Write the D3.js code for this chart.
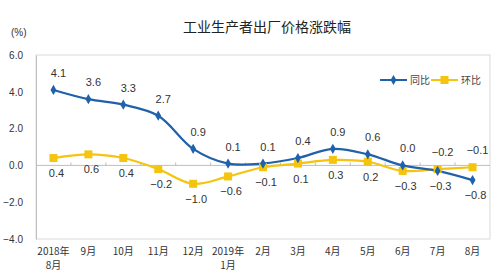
<!DOCTYPE html>
<html>
<script src="https://d3js.org/d3.v7.min.js"></script>
<head>
<style>
    body { margin: 0; background: #fff; font-family: "Noto Sans CJK SC", Arial, sans-serif; }
    svg { display: block; }
</style>
</head>
<body>
</body>
<script>
    const months = ["2018年|8月", "9月", "10月", "11月", "12月", "2019年|1月", "2月", "3月", "4月", "5月", "6月", "7月", "8月"];
    const yoy = [4.1, 3.6, 3.3, 2.7, 0.9, 0.1, 0.1, 0.4, 0.9, 0.6, 0.0, -0.3, -0.8];
    const mom = [0.4, 0.6, 0.4, -0.2, -1.0, -0.6, -0.1, 0.1, 0.3, 0.2, -0.3, -0.2, -0.1];
    const yTicks = [6, 4, 2, 0, -2, -4];

    const width = 500, height = 276;
    const blue = "#1f61ab", yellow = "#f5c40f";
    const svg = d3.select("body").append("svg").attr("width", width).attr("height", height);

    const x = d3.scaleBand().domain(months).range([36, 490]);
    const y = d3.scaleLinear().domain([-4, 6]).range([239, 55]);
    const cx = d => x(d) + x.bandwidth() / 2;

    // plot box
    svg.append("rect")
        .attr("x", 36).attr("y", 55)
        .attr("width", 454).attr("height", 184)
        .attr("fill", "none").attr("stroke", "#d9d9d9");

    // y axis
    const yAxis = svg.append("g").attr("transform", "translate(36,0)")
        .call(d3.axisLeft(y).tickValues(yTicks).tickSize(0).tickPadding(13).tickFormat(d3.format(".1f")));
    yAxis.select(".domain").attr("stroke", "#bfbfbf");
    yAxis.selectAll("text").attr("font-size", 10).attr("fill", "#333").attr("font-family", "Arial");

    // zero line with category ticks
    svg.append("line")
        .attr("x1", 36).attr("x2", 490)
        .attr("y1", y(0)).attr("y2", y(0))
        .attr("stroke", "#bfbfbf");
    months.slice(1).forEach(m => {
        svg.append("line")
            .attr("x1", x(m)).attr("x2", x(m))
            .attr("y1", y(0)).attr("y2", y(0) - 3)
            .attr("stroke", "#bfbfbf");
    });

    // x labels
    months.forEach(m => {
        const parts = m.split("|");
        parts.forEach((p, i) => {
            svg.append("text")
                .attr("x", cx(m))
                .attr("y", 255 + i * 14)
                .attr("text-anchor", "middle")
                .attr("font-size", 10)
                .attr("fill", "#333")
                .text(p);
        });
    });

    const line = d3.line()
        .x((d, i) => cx(months[i]))
        .y(d => y(d))
        .curve(d3.curveCatmullRom);

    svg.append("path").datum(mom)
        .attr("fill", "none").attr("stroke", yellow).attr("stroke-width", 2.2)
        .attr("d", line);
    svg.append("path").datum(yoy)
        .attr("fill", "none").attr("stroke", blue).attr("stroke-width", 2.2)
        .attr("d", line);

    svg.selectAll(".sq").data(mom).join("rect")
        .attr("x", (d, i) => cx(months[i]) - 4)
        .attr("y", d => y(d) - 4)
        .attr("width", 8).attr("height", 8)
        .attr("fill", yellow);
    svg.selectAll(".dm").data(yoy).join("path")
        .attr("transform", (d, i) => `translate(${cx(months[i])},${y(d)})`)
        .attr("d", d3.symbol(d3.symbolDiamond, 30))
        .attr("fill", blue);

    // data labels: higher series above, lower below
    const fmt = d3.format(".1f");
    months.forEach((m, i) => {
        const pairs = [yoy[i], mom[i]];
        pairs.forEach((v, k) => {
            const other = pairs[1 - k];
            const above = v > other || (v === other && k === 0);
            svg.append("text")
                .attr("x", cx(m) + (above ? 5 : 3))
                .attr("y", y(v) + (above ? -13 : 19))
                .attr("text-anchor", "middle")
                .attr("font-size", 11)
                .attr("font-family", "Arial")
                .attr("fill", "#333")
                .text(fmt(v));
        });
    });

    // legend
    const leg = [["同比", blue, 380], ["环比", yellow, 431]];
    leg.forEach(([name, col, lx]) => {
        svg.append("line")
            .attr("x1", lx).attr("x2", lx + 27)
            .attr("y1", 80).attr("y2", 80)
            .attr("stroke", col).attr("stroke-width", 2);
        if (col === blue) {
            svg.append("path")
                .attr("transform", `translate(${lx + 13.5},80)`)
                .attr("d", d3.symbol(d3.symbolDiamond, 30))
                .attr("fill", col);
        } else {
            svg.append("rect")
                .attr("x", lx + 9.5).attr("y", 76)
                .attr("width", 8).attr("height", 8)
                .attr("fill", col);
        }
        svg.append("text")
            .attr("x", lx + 30).attr("y", 84)
            .attr("font-size", 10).attr("fill", "#444")
            .text(name);
    });

    // title and unit
    svg.append("text")
        .attr("x", 267).attr("y", 32)
        .attr("text-anchor", "middle")
        .attr("font-size", 14).attr("fill", "#222")
        .text("工业生产者出厂价格涨跌幅");
    svg.append("text")
        .attr("x", 11).attr("y", 36)
        .attr("font-size", 10).attr("fill", "#333").attr("font-family", "Arial")
        .text("(%)");
</script>
</html>
